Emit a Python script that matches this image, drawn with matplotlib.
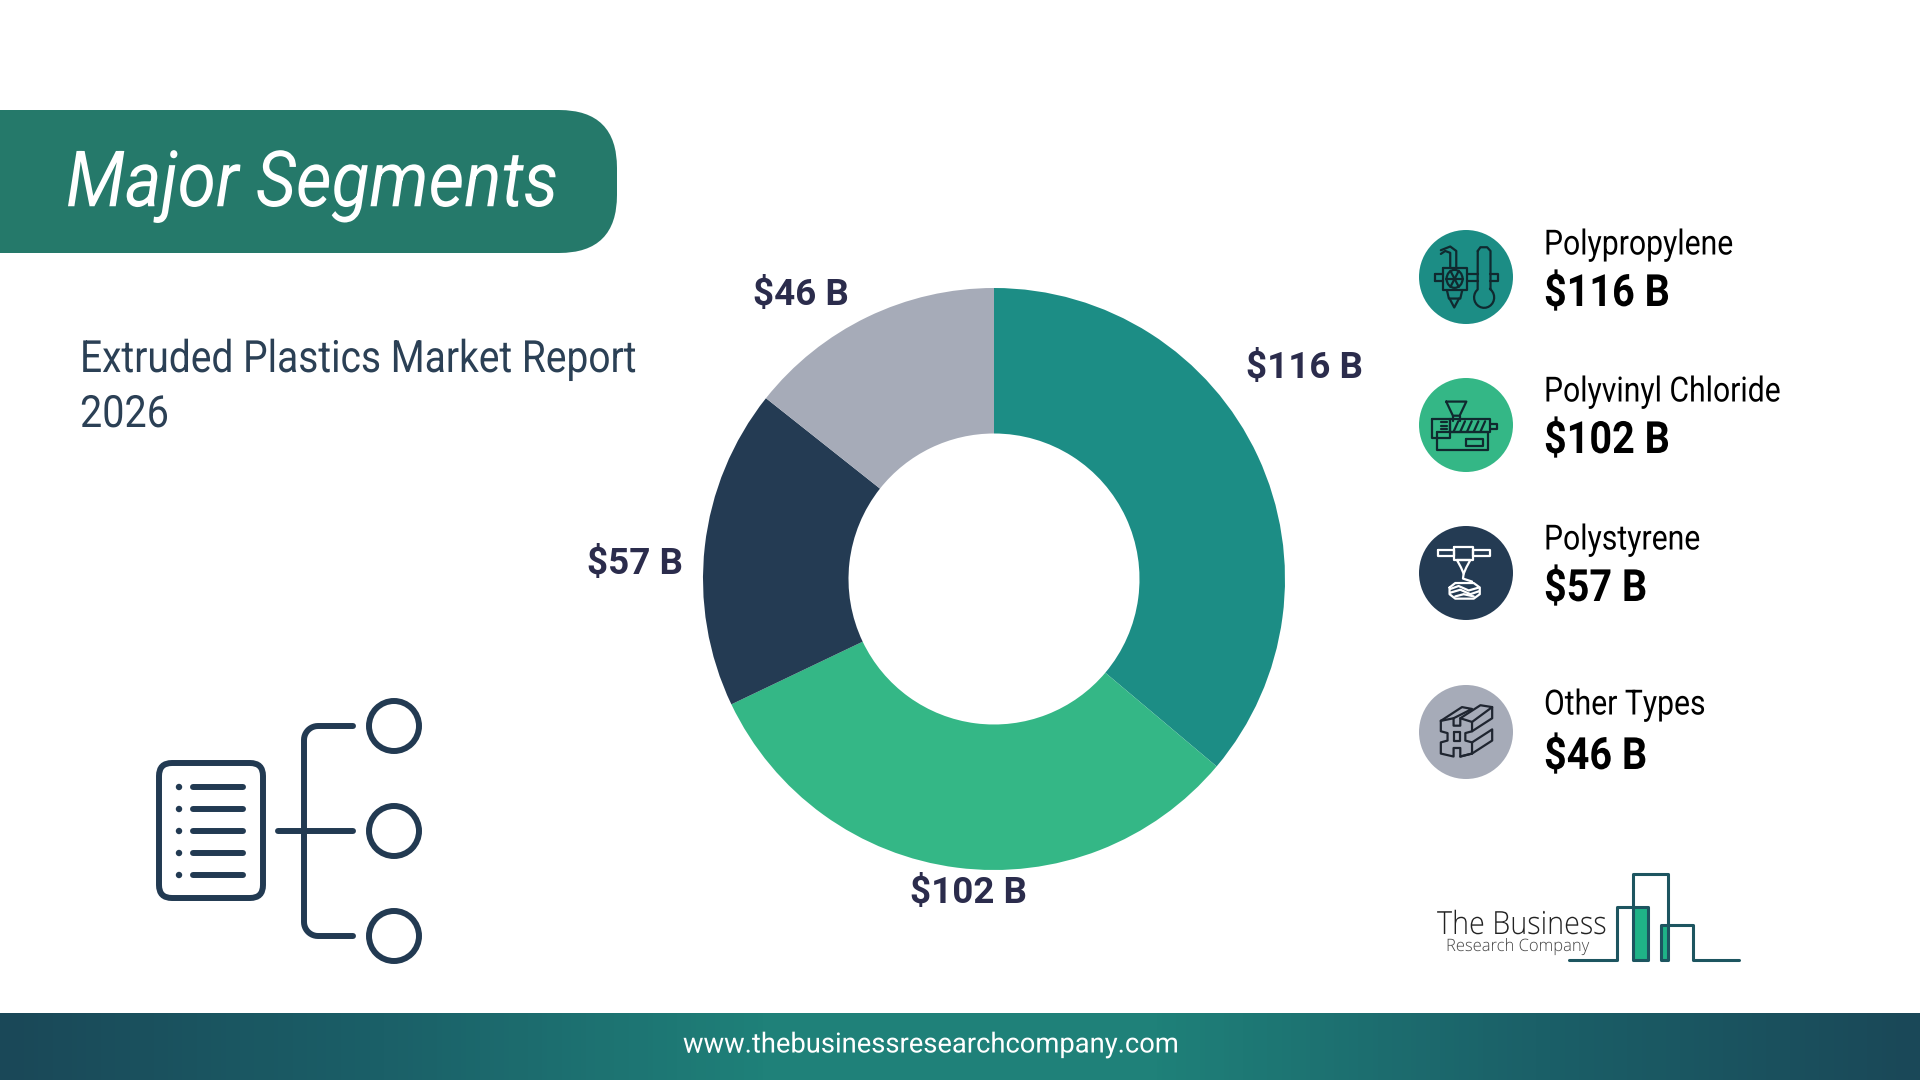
import numpy as np
import matplotlib
matplotlib.use("Agg")
import matplotlib.pyplot as plt
from matplotlib.patches import Circle, Ellipse, FancyBboxPatch, Rectangle
from matplotlib.colors import LinearSegmentedColormap
from matplotlib.patheffects import AbstractPathEffect
from matplotlib.transforms import Affine2D

plt.rcParams['font.family'] = ['Roboto', 'DejaVu Sans']

# data
segments = ["Polypropylene", "Polyvinyl Chloride", "Polystyrene", "Other Types"]
values = [116, 102, 57, 46]
value_labels = ["$116 B", "$102 B", "$57 B", "$46 B"]
colors = ["#1c8d85", "#34b786", "#243b53", "#a6abb8"]
title = "Major Segments"
subtitle = ["Extruded Plastics Market Report", "2026"]
website = "www.thebusinessresearchcompany.com"

DARK = "#223a52"
INK = "#10292f"


class Squeeze(AbstractPathEffect):
    # the reference has tight tracking, so narrow the glyphs from the left anchor
    def __init__(self, sx):
        super().__init__()
        self.sx = sx

    def draw_path(self, renderer, gc, tpath, affine, rgbFace=None):
        renderer.draw_path(gc, tpath, Affine2D().scale(self.sx, 1) + affine, rgbFace)


fig = plt.figure(figsize=(19.2, 10.8), dpi=100, facecolor="white")

# background axes in pixels, used for everything that is not the donut
bg = fig.add_axes([0, 0, 1, 1])
bg.axis("off")


def gradient(stops, extent):
    cmap = LinearSegmentedColormap.from_list("g", stops)
    bg.imshow(np.linspace(0, 1, 400).reshape(1, -1), cmap=cmap, extent=extent,
              aspect="auto", zorder=1)


def line(pts, color=DARK, lw=4.3, closed=False, z=5):
    pts = np.array(pts, dtype=float)
    if closed:
        pts = np.vstack([pts, pts[:1]])
    bg.plot(pts[:, 0], pts[:, 1], color=color, lw=lw, solid_capstyle="round",
            solid_joinstyle="round", zorder=z)


def arc(x, y, rad, a0, a1):
    t = np.radians(np.linspace(a0, a1, 12))
    return list(zip(x + rad * np.cos(t), y + rad * np.sin(t)))


# header + footer
bg.add_patch(FancyBboxPatch((-80, 110), 697, 143, boxstyle="round,pad=0,rounding_size=58",
                            fc="#25796a", ec="none", zorder=1))
gradient(["#1a4858", "#1b6068", "#1f8179", "#1f8179", "#1b6068", "#1a4858"], (0, 1920, 1080, 1013))
bg.set_xlim(0, 1920)
bg.set_ylim(1080, 0)

bg.text(66, 186, title, color="white", fontsize=56, style="italic", va="center", ha="left", zorder=6,
        path_effects=[Squeeze(0.893)])
bg.text(80, 360, subtitle[0], color="#2b4055", fontsize=32, va="center", ha="left",
        path_effects=[Squeeze(0.876)])
bg.text(80, 415, subtitle[1], color="#2b4055", fontsize=32, va="center", ha="left",
        path_effects=[Squeeze(0.89)])
bg.text(683, 1045, website, color="white", fontsize=20, va="center", ha="left", zorder=6,
        path_effects=[Squeeze(0.985)])

# donut
cx, cy, r = 994, 579, 291
ax = fig.add_axes([(cx - r) / 1920, 1 - (cy + r) / 1080, 2 * r / 1920, 2 * r / 1080])
ax.pie(values, colors=colors, startangle=90, counterclock=False, radius=1,
       wedgeprops={"width": 0.5, "linewidth": 0})
ax.set_xlim(-1, 1)
ax.set_ylim(-1, 1)

label_xy = [(1304, 368), (969, 893), (635, 564), (801, 295)]
for s, (x, y) in zip(value_labels, label_xy):
    bg.text(x, y, s, color="#2b2c4c", fontsize=26.5, fontweight="bold", ha="center", va="center", zorder=6)

# legend column
legend_y = [277, 425, 573, 732]
name_y = [245, 392, 540, 705]
val_y = [294, 441, 589, 757]
for i in range(4):
    bg.add_patch(Circle((1466, legend_y[i]), 47, fc=colors[i], ec="none", zorder=3))
    bg.text(1544, name_y[i], segments[i], color="black", fontsize=25, va="center", ha="left",
            path_effects=[Squeeze(0.868)])
    bg.text(1544, val_y[i], value_labels[i], color="black", fontsize=32, fontweight="bold",
            va="center", ha="left", path_effects=[Squeeze(0.89)])


def icon_pts(pts, cen, ox, oy):
    return [(cen[0] + (px - ox) / 2.98, cen[1] + (py - oy) / 2.69) for px, py in pts]


# polypropylene icon
c = (1466, legend_y[0])
def p1(pts, closed=False):
    line(icon_pts(pts, c, 197, 180), INK, 1.6, closed)
p1([(128, 155), (200, 155), (200, 215), (128, 215)], True)
p1([(105, 172), (128, 172)]); p1([(105, 190), (128, 190)]); p1([(105, 172), (105, 190)])
p1([(200, 172), (232, 172)]); p1([(200, 190), (232, 190)])
p1([(270, 172), (292, 172), (292, 190), (270, 190)])
p1([(140, 215), (146, 238), (180, 238), (186, 215)])
p1([(148, 238), (162, 262), (176, 238)])
p1([(150, 155), (150, 115), (135, 110), (122, 118)])
p1([(168, 155), (168, 110), (150, 98), (122, 108)])
bulb = np.radians(np.arange(-55, 240, 15))
therm = [(232, 110), (240, 100), (260, 100), (270, 110), (270, 212)]
therm += [(251 + 30 * np.cos(a), 235 + 28 * np.sin(a)) for a in bulb]
p1(therm, True)
bg.add_patch(Ellipse(icon_pts([(163, 185)], c, 197, 180)[0], 16, 18, fc="none", ec=INK, lw=1.6, zorder=5))
for a in np.radians(np.arange(0, 360, 60)):
    p1([(163, 185), (163 + 25 * np.cos(a), 185 + 25 * np.sin(a))])

# pvc icon
c = (1466, legend_y[1])
def p2(pts, closed=False):
    line(icon_pts(pts, c, 197, 580), INK, 1.6, closed)
p2([(138, 517), (198, 517), (178, 555), (158, 555)], True)
p2([(158, 555), (158, 568)]); p2([(178, 555), (178, 568)])
p2([(148, 565), (270, 565), (270, 600), (148, 600)], True)
p2([(95, 565), (148, 565), (148, 615), (95, 615)], True)
p2([(112, 600), (262, 600), (262, 648), (112, 648)], True)
p2([(197, 618), (247, 618), (247, 636), (197, 636)], True)
p2([(270, 576), (290, 576), (290, 592), (270, 592)])
for x0 in range(160, 250, 20):
    p2([(x0, 598), (x0 + 14, 570)])
for yy in (572, 582, 592):
    p2([(122, yy), (140, yy)])

# polystyrene icon
c = (1466, legend_y[2])
def p3(pts, closed=False):
    line(icon_pts(pts, c, 197, 983), "white", 1.6, closed)
p3([(113, 922), (162, 922), (162, 937), (113, 937)], True)
p3([(218, 922), (270, 922), (270, 937), (218, 937)], True)
p3([(162, 912), (218, 912), (218, 948), (162, 948)], True)
p3([(170, 948), (210, 948), (198, 968), (190, 985), (182, 968)], True)
p3([(190, 985), (188, 998), (215, 1006)])
p3([(148, 1022), (165, 1010), (220, 1010), (238, 1022), (238, 1040), (220, 1052), (165, 1052), (148, 1040)], True)
p3([(150, 1026), (175, 1018), (205, 1030), (236, 1022)])
p3([(150, 1036), (180, 1028), (210, 1040), (236, 1032)])
p3([(165, 1046), (190, 1040), (220, 1046)])

# other types icon
c = (1466, legend_y[3])
def p4(pts, closed=False):
    line(icon_pts(pts, c, 197, 1412), "#1f2530", 1.6, closed)
front = [(122, 1382), (160, 1375), (160, 1395), (180, 1395), (180, 1375), (215, 1385), (215, 1410),
         (195, 1415), (195, 1435), (215, 1440), (215, 1470), (180, 1478), (180, 1455), (160, 1455),
         (160, 1478), (122, 1470), (122, 1440), (142, 1435), (142, 1415), (122, 1410)]
p4(front, True)
p4([(160, 1412), (180, 1412), (180, 1435), (160, 1435)], True)
p4([(122, 1382), (185, 1345), (215, 1350), (160, 1375)])
p4([(180, 1375), (240, 1340), (275, 1345), (215, 1385)])
p4([(275, 1345), (275, 1375), (215, 1410)])
p4([(215, 1440), (275, 1405), (275, 1435), (215, 1470)])
p4([(180, 1478), (215, 1470)])

# list icon bottom left
bg.add_patch(FancyBboxPatch((159, 763), 104, 135, boxstyle="round,pad=0,rounding_size=13",
                            fc="none", ec=DARK, lw=4.3, zorder=5))
for y in [787, 809, 831, 853, 875]:
    bg.add_patch(Circle((179, y), 3.2, fc=DARK, ec="none", zorder=5))
    line([(193, y), (243, y)])
line([(278, 831), (353, 831)])
line([(353, 726)] + arc(318, 740, 14, 270, 180) + arc(318, 922, 14, 180, 90) + [(353, 936)])
for y in [726, 831, 936]:
    bg.add_patch(Circle((394, y), 25, fc="none", ec=DARK, lw=4.3, zorder=5))

# logo
LOGO = "#1d5560"
bg.add_patch(Rectangle((1633, 907), 15, 53, fc="#1fb387", ec="none", zorder=4))
bg.add_patch(Rectangle((1661, 925), 7, 35, fc="#1fb387", ec="none", zorder=4))
line([(1569, 960), (1617, 960), (1617, 907), (1648, 907), (1648, 960), (1633, 960), (1633, 874),
      (1668, 874), (1668, 960), (1661, 960), (1661, 925), (1693, 925), (1693, 960), (1739, 960)],
     LOGO, 2.2)
bg.text(1437, 926, "The Business", color="#222222", fontsize=23, family="Open Sans", fontweight="light",
        va="center", ha="left", path_effects=[Squeeze(0.9)])
bg.text(1446, 947, "Research Company", color="#444444", fontsize=12.3, family="Open Sans", fontweight="light",
        va="center", ha="left", path_effects=[Squeeze(0.97)])

fig.savefig("out.png", dpi=100)
